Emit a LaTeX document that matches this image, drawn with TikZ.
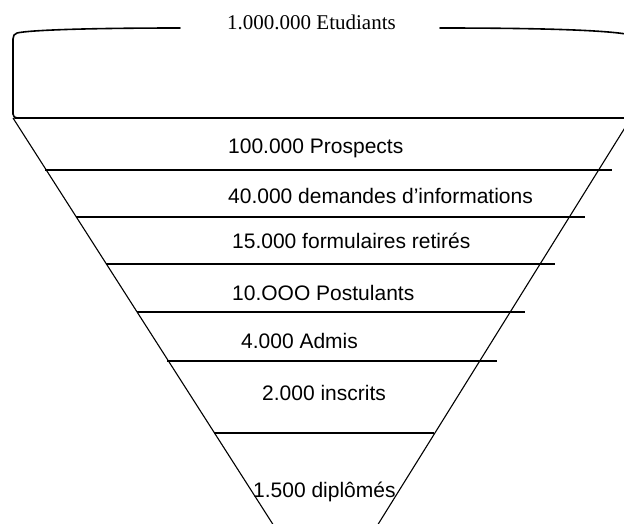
\documentclass[tikz,border=0pt]{standalone}
\usepackage{fontspec}
\setmainfont{Liberation Sans}
\newfontfamily\serifface{Liberation Serif}
\begin{document}
\begin{tikzpicture}[x=1pt,y=-1pt,
  boxline/.style={line width=1.6pt,line join=round,line cap=round},
  boxbase/.style={line width=2.2pt,line cap=round},
  edge/.style={line width=1.1pt},
  level/.style={line width=1.3pt},
  lbl/.style={anchor=base west,inner sep=0pt,font=\fontsize{21}{25}\selectfont},
  toplbl/.style={anchor=base west,inner sep=0pt,font=\serifface\fontsize{21}{25}\selectfont}]
\useasboundingbox (0,0) rectangle (624,523);
\begin{scope}
\clip (0,0) rectangle (624,523);
% top container
\draw[boxline] (180,28) .. controls (90,28) and (30,30) .. (17,33)
  to[out=190,in=90] (13,39) -- (13,114) to[out=-90,in=180] (17,118);
\draw[boxline] (440,28) .. controls (540,28) and (600,30) .. (626,34) -- (626,118);
\draw[boxbase] (15,118) -- (626,118);
% funnel sides
\draw[edge] (13,118) -- (274,526);
\draw[edge] (631,118) -- (377,526);
% funnel levels
\draw[level] (45,170) -- (612,170);
\draw[level] (76,217) -- (585,217);
\draw[level] (106,264) -- (555,264);
\draw[level] (137,312) -- (525,312);
\draw[level] (167,361) -- (497,361);
\draw[level] (214,433) -- (434,433);
\end{scope}
% labels
\node[toplbl] (etudiants) at (227,29) {1.000.000 Etudiants};
\node[lbl] (prospects) at (228,153) {100.000 Prospects};
\node[lbl] (demandes) at (228,203) {40.000 demandes d’informations};
\node[lbl] (formulaires) at (232,248) {15.000 formulaires retirés};
\node[lbl] (postulants) at (232,300) {10.OOO Postulants};
\node[lbl] (admis) at (241,348) {4.000 Admis};
\node[lbl] (inscrits) at (262,400) {2.000 inscrits};
\node[lbl] (diplomes) at (253,497) {1.500 diplômés};
\end{tikzpicture}
\end{document}
